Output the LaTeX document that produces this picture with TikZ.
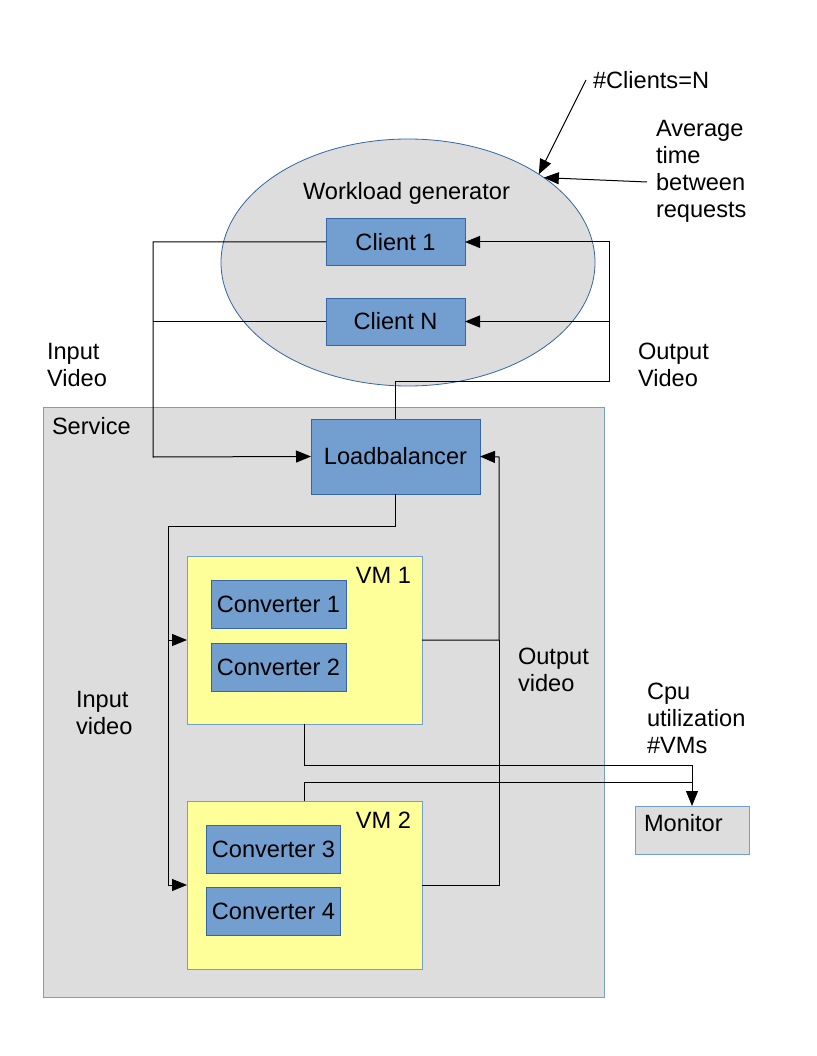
\documentclass[tikz,border=0pt]{standalone}
\usepackage{fontspec}
\setmainfont{Liberation Sans}
\usetikzlibrary{shapes.geometric, arrows.meta}

\definecolor{greyfill}{HTML}{DDDDDD}
\definecolor{bluefill}{HTML}{729FCF}
\definecolor{blueline}{HTML}{3465A4}
\definecolor{paleline}{HTML}{729FCF}
\definecolor{vmfill}{HTML}{FFFF99}

\begin{document}
\begin{tikzpicture}[
  x=1pt, y=-1pt,
  every node/.style={font=\fontsize{23.6}{27}\selectfont, inner sep=0pt, outer sep=0pt},
  comp/.style={rectangle, draw=blueline, fill=bluefill, line width=0.8pt, minimum width=139pt, minimum height=47pt},
  conv/.style={comp, minimum width=135pt, minimum height=48pt},
  vmbox/.style={rectangle, draw=paleline, fill=vmfill, line width=0.8pt, minimum width=235pt, minimum height=168pt},
  greybox/.style={rectangle, draw=paleline, fill=greyfill, line width=0.8pt},
  note/.style={anchor=west, align=left},
  line width=1pt, >={Triangle[length=15pt,width=12pt]}
  ]
\useasboundingbox (0,0) rectangle (816,1056);

% Nodes
\node[ellipse, draw=blueline, fill=greyfill, line width=0.8pt, minimum width=374pt, minimum height=247pt] (wg) at (408,262.5) {};
\node (wgtitle) at (406.5,193) {Workload generator};
\node[comp] (client1) at (395.5,242) {Client 1};
\node[comp] (clientN) at (395.5,321.5) {Client N};

\node[greybox, minimum width=561pt, minimum height=590pt] (service) at (323.5,702.5) {};
\node[anchor=west] (servicetitle) at (52,426) {Service};
\node[comp, minimum width=169pt, minimum height=75pt] (lb) at (395.5,456.5) {Loadbalancer};

\node[vmbox] (vm1) at (304.5,640) {};
\node[anchor=east] (vm1title) at (411,575) {VM 1};
\node[conv] (conv1) at (278.5,604.5) {Converter 1};
\node[conv] (conv2) at (278.5,667) {Converter 2};

\node[vmbox] (vm2) at (304.5,885) {};
\node[anchor=east] (vm2title) at (411,820) {VM 2};
\node[conv, minimum width=134pt] (conv3) at (273.5,849) {Converter 3};
\node[conv, minimum width=134pt] (conv4) at (273.5,911.5) {Converter 4};

\node[greybox, minimum width=114pt, minimum height=48pt] (monitor) at (692,830) {};
\node[anchor=west] (monitortitle) at (644,823) {Monitor};

% Labels
\node[note] (nclients) at (593,80) {\#Clients=N};
\node[note] (avgtime) at (656,171) {Average\\time\\between\\requests};
\node[note] (invideo) at (47,364.5) {Input\\Video};
\node[note] (outvideo) at (638,365) {Output\\Video};
\node[note] (invm) at (76,712.5) {Input\\video};
\node[note] (outvm) at (518,670) {Output\\video};
\node[note] (cpu) at (647,718) {Cpu\\utilization\\\#VMs};

% Bus points
\coordinate (avgtail) at (647,182);
\coordinate (inbus) at (153,457);
\coordinate (outbus) at (609,381);
\coordinate (lbbus) at (168,526);
\coordinate (retbus) at (499,457);
\coordinate (monbus1) at (692,765);
\coordinate (monbus2) at (692,782);

% Arrows
\draw[->] ([xshift=-7pt]nclients.west) -- (wg.34);
\draw[->] (avgtail) -- (wg.32);
\draw[->] (client1.west) -| (inbus) -- (lb.west);
\draw (clientN.west) -- (clientN.west -| inbus);
\draw[->] (lb.north) |- (outbus) |- (client1.east);
\draw[->] (outbus |- clientN.east) -- (clientN.east);
\draw[->] (lb.south) |- (lbbus) |- (vm2.west);
\draw[->] (lbbus |- vm1.west) -- (vm1.west);
\draw[->] (vm1.east) -| (retbus) -- (lb.east);
\draw (vm2.east) -| (retbus |- vm1.east);
\draw[->] (vm1.south) |- (monbus1) -- (monitor.north);
\draw (vm2.north) |- (monbus2);

\end{tikzpicture}
\end{document}
